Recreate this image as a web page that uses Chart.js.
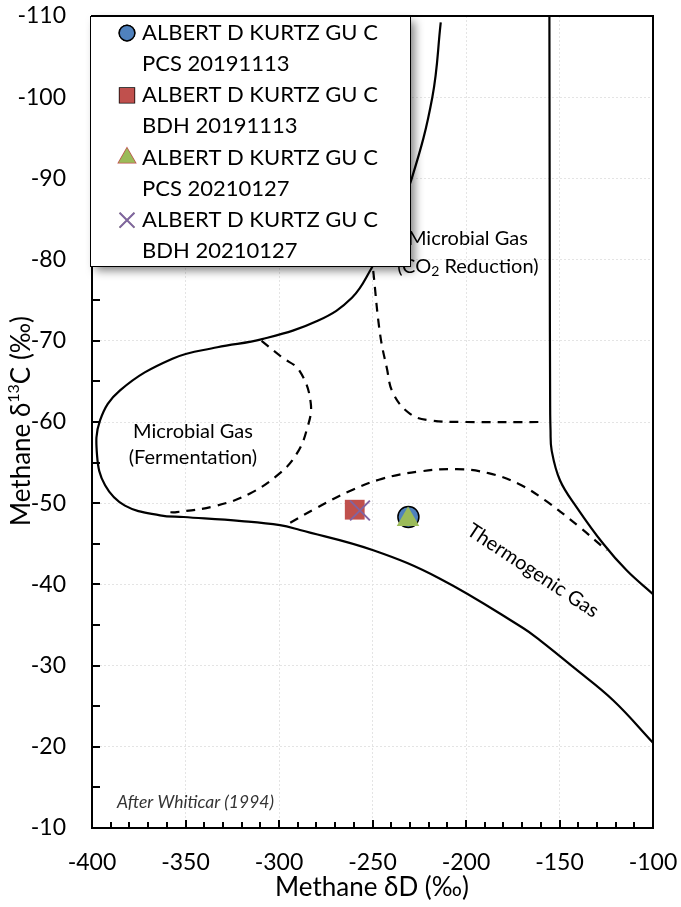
<!DOCTYPE html>
<html>
<head>
<meta charset="utf-8">
<script src="https://cdn.jsdelivr.net/npm/chart.js@4.4.0/dist/chart.umd.min.js"></script>
<style>
  html, body { margin: 0; padding: 0; background: #fff; }
  #wrap { width: 681px; height: 907px; }
</style>
</head>
<body>
<div id="wrap"><canvas id="chart" width="681" height="907"></canvas></div>
<script>
// --- AXES ---
const xTickValues = [-400, -350, -300, -250, -200, -150, -100];
const yTickValues = [-110, -100, -90, -80, -70, -60, -50, -40, -30, -20, -10];

// --- SAMPLES ---
const sampleNames = [
  "ALBERT D KURTZ GU C PCS 20191113",
  "ALBERT D KURTZ GU C BDH 20191113",
  "ALBERT D KURTZ GU C PCS 20210127",
  "ALBERT D KURTZ GU C BDH 20210127"
];
const sampleDeltaD = [-230.8, -259.5, -231.0, -256.7];
const sampleDelta13C = [-48.3, -49.2, -48.0, -49.1];

// --- WHITICAR (1994) FIELD BOUNDARIES ---
// outer solid envelope (microbial loop + thermogenic lower edge)
const outerX = [-213.5, -218, -229, -240, -250.4, -261, -279, -309, -333, -357, -385, -395.7, -397.3, -393, -382.4, -363.6, -351, -320, -299.5, -288.8, -249.6, -213.9, -169.3, -160.4, -142.6, -121.2, -100];
const outerY = [-109.2, -100, -90, -83.5, -79, -75.3, -72.5, -70.2, -69.2, -67.8, -63.9, -60.2, -55.9, -52.2, -49.7, -48.5, -48.3, -47.8, -47.3, -46.7, -44.2, -40.7, -34.6, -33.1, -29.8, -25.7, -20.5];
// right solid envelope
const rightX = [-155.4, -155.2, -155.0, -154.8, -154.2, -149.7, -140.8, -126.6, -114, -100];
const rightY = [-110, -80, -62, -59, -56.5, -52.8, -49.5, -45, -41.7, -38.8];
// dashed: fermentation field
const fermX = [-309.3, -298.6, -289, -283, -285.2, -290.5, -299.5, -315.5, -333.3, -354.7, -360];
const fermY = [-70, -68, -66.3, -62.3, -59, -56.1, -53.7, -51.2, -49.7, -48.9, -48.9];
// dashed: CO2 reduction field
const co2X = [-249.6, -246, -242.4, -238.9, -229.9, -219.3, -200, -158.3];
const co2Y = [-78.6, -70.9, -66.7, -63.5, -61, -60.2, -60.0, -60.0];
// dashed: thermogenic upper edge
const thermoX = [-294, -280, -263, -245, -225, -205, -188, -172, -158, -140, -124.8];
const thermoY = [-47.6, -49.4, -51.4, -53.0, -53.9, -54.2, -53.7, -52.4, -50.4, -47.2, -44.2];

// --- STYLE ---
const FONT = "Lato, 'Open Sans', 'DejaVu Sans', sans-serif";
const sampleStyles = [
  { pointStyle: "circle", radius: 10.5, bg: "#4F81BD", border: "#000", bw: 1.5, order: 4 },
  { pointStyle: "rect", radius: 14, bg: "#C0504D", border: "#C0504D", bw: 0, order: 3 },
  { pointStyle: "triangle", radius: 13, bg: "#9BBB59", border: "#9BBB59", bw: 0, order: 2 },
  { pointStyle: "crossRot", radius: 14, bg: "#8064A2", border: "#8064A2", bw: 2, order: 1 }
];

const zip = (xs, ys) => xs.map((x, i) => ({ x, y: ys[i] }));

function curve(xs, ys, dashed) {
  return {
    data: zip(xs, ys),
    showLine: true,
    borderColor: "#000",
    borderWidth: 2.2,
    borderDash: dashed ? [9, 7] : [],
    pointRadius: 0,
    tension: 0.4,
    order: 10
  };
}

const datasets = [
  curve(outerX, outerY, false),
  curve(rightX, rightY, false),
  curve(fermX, fermY, true),
  curve(co2X, co2Y, true),
  curve(thermoX, thermoY, true)
];

sampleNames.forEach((name, i) => {
  const s = sampleStyles[i];
  datasets.push({
    label: name,
    data: [{ x: sampleDeltaD[i], y: sampleDelta13C[i] }],
    showLine: false,
    pointStyle: s.pointStyle,
    pointRadius: s.radius,
    pointHoverRadius: s.radius,
    backgroundColor: s.bg,
    borderColor: s.border,
    borderWidth: s.bw,
    order: s.order
  });
});

// --- ANNOTATIONS (data coordinates) ---
const regionLabels = [
  { lines: ["Microbial Gas", "(Fermentation)"], x: -346, y: [-58.8, -55.6] },
  { lines: ["Microbial Gas", null], x: -199, y: [-82.6, -79.2] },
  { lines: ["Thermogenic Gas"], x: -164.2, y: [-41.7], angle: 33.5 }
];

const LABEL_SIZE = 20;

function drawCO2Line(ctx, cx, cy) {
  const big = LABEL_SIZE + "px " + FONT, small = "14px " + FONT;
  ctx.font = big;
  const a = "(CO", c = " Reduction)";
  const wa = ctx.measureText(a).width, wc = ctx.measureText(c).width;
  ctx.font = small;
  const wb = ctx.measureText("2").width;
  let x = cx - (wa + wb + wc) / 2;
  ctx.textAlign = "left";
  ctx.font = big; ctx.fillText(a, x, cy); x += wa;
  ctx.font = small; ctx.fillText("2", x, cy + 5); x += wb;
  ctx.font = big; ctx.fillText(c, x, cy);
}

const overlay = {
  id: "overlay",
  afterDatasetsDraw(chart) {
    const { ctx, chartArea: area, scales: { x: xs, y: ys } } = chart;
    ctx.save();
    ctx.fillStyle = "#000";
    ctx.textBaseline = "middle";

    // field labels
    regionLabels.forEach((lab) => {
      const px = xs.getPixelForValue(lab.x);
      if (lab.angle) {
        ctx.save();
        ctx.translate(px, ys.getPixelForValue(lab.y[0]));
        ctx.rotate(lab.angle * Math.PI / 180);
        ctx.font = LABEL_SIZE + "px " + FONT;
        ctx.textAlign = "center";
        ctx.fillText(lab.lines[0], 0, 0);
        ctx.restore();
        return;
      }
      lab.lines.forEach((t, k) => {
        const py = ys.getPixelForValue(lab.y[k]);
        if (t === null) { drawCO2Line(ctx, px, py); return; }
        ctx.font = LABEL_SIZE + "px " + FONT;
        ctx.textAlign = "center";
        ctx.fillText(t, px, py);
      });
    });

    // attribution
    ctx.font = "italic 17.5px " + FONT;
    ctx.fillStyle = "#333";
    ctx.textAlign = "left";
    ctx.fillText("After Whiticar (1994)", xs.getPixelForValue(-386.6), ys.getPixelForValue(-13.1));

    // inward ticks
    ctx.strokeStyle = "#000";
    ctx.lineWidth = 2;
    ctx.beginPath();
    for (let v = -400; v <= -100; v += 10) {
      const px = Math.round(xs.getPixelForValue(v));
      const len = v % 50 === 0 ? 8 : 6;
      ctx.moveTo(px, area.bottom);
      ctx.lineTo(px, area.bottom - len);
    }
    for (let v = -110; v <= -10; v += 5) {
      const py = Math.round(ys.getPixelForValue(v));
      ctx.moveTo(area.left, py);
      ctx.lineTo(area.left + 8, py);
    }
    ctx.stroke();

    // plot frame
    ctx.lineWidth = 2;
    ctx.strokeRect(area.left, area.top, area.right - area.left, area.bottom - area.top);

    // legend box with shadow
    const bx = 90.5, by = 16.5, bw = 320, bh = 250;
    ctx.save();
    ctx.shadowColor = "rgba(0,0,0,0.5)";
    ctx.shadowBlur = 9;
    ctx.shadowOffsetX = 4;
    ctx.shadowOffsetY = 4;
    ctx.fillStyle = "#fff";
    ctx.fillRect(bx, by, bw, bh);
    ctx.restore();
    ctx.lineWidth = 1;
    ctx.strokeStyle = "#000";
    ctx.strokeRect(bx, by, bw, bh);

    ctx.font = "22px " + FONT;
    ctx.fillStyle = "#000";
    ctx.textAlign = "left";
    sampleNames.forEach((name, i) => {
      const words = name.split(" ");
      const l1 = words.slice(0, -2).join(" ");
      const l2 = words.slice(-2).join(" ");
      const y1 = 33 + i * 62.4;
      const s = sampleStyles[i];
      Chart.helpers.drawPoint(ctx, {
        pointStyle: s.pointStyle,
        radius: s.radius * 0.75,
        borderWidth: s.bw || 0.01,
        rotation: 0
      }, 127, y1);
      ctx.fillStyle = s.bg;
      ctx.strokeStyle = s.border;
      ctx.lineWidth = s.bw;
      ctx.fill();
      if (s.bw) ctx.stroke();
      ctx.fillStyle = "#000";
      ctx.fillText(l1, 142, y1);
      ctx.fillText(l2, 142, y1 + 31);
    });

    ctx.restore();
  },
  afterDraw(chart) {
    const { ctx } = chart;
    ctx.save();
    ctx.fillStyle = "#000";
    ctx.textBaseline = "middle";
    // x title
    ctx.font = "26px " + FONT;
    ctx.textAlign = "center";
    ctx.fillText("Methane \u03B4D (\u2030)", 372, 888);
    // y title with superscript
    ctx.translate(22, 421);
    ctx.rotate(-Math.PI / 2);
    const big = "26px " + FONT, small = "16px " + FONT;
    ctx.font = big;
    const a = "Methane \u03B4", c = "C (\u2030)";
    const wa = ctx.measureText(a).width, wc = ctx.measureText(c).width;
    ctx.font = small;
    const wb = ctx.measureText("13").width;
    let x = -(wa + wb + wc) / 2;
    ctx.textAlign = "left";
    ctx.font = big; ctx.fillText(a, x, 0); x += wa;
    ctx.font = small; ctx.fillText("13", x, -8); x += wb;
    ctx.font = big; ctx.fillText(c, x, 0);
    ctx.restore();
  }
};

new Chart(document.getElementById("chart"), {
  type: "scatter",
  data: { datasets },
  options: {
    responsive: false,
    animation: false,
    layout: { padding: { top: 15, right: 28, left: 0, bottom: 0 } },
    plugins: { legend: { display: false }, tooltip: { enabled: false } },
    scales: {
      x: {
        type: "linear",
        min: -400,
        max: -100,
        afterBuildTicks: (s) => { s.ticks = xTickValues.map((v) => ({ value: v })); },
        afterFit: (s) => { s.height = 79; s.paddingLeft = 0; s.paddingRight = 0; },
        grid: { color: "#e4e4e4", lineWidth: 1, drawTicks: false },
        border: { display: false, dash: [2, 2] },
        ticks: { color: "#000", padding: 21, font: { family: FONT, size: 23 } }
      },
      y: {
        type: "linear",
        min: -110,
        max: -10,
        reverse: true,
        afterBuildTicks: (s) => { s.ticks = yTickValues.map((v) => ({ value: v })); },
        afterFit: (s) => { s.width = 92; s.paddingTop = 0; s.paddingBottom = 0; },
        grid: { color: "#e4e4e4", lineWidth: 1, drawTicks: false },
        border: { display: false, dash: [2, 2] },
        ticks: { color: "#000", padding: 26, font: { family: FONT, size: 23 } }
      }
    }
  },
  plugins: [overlay]
});
</script>
</body>
</html>
